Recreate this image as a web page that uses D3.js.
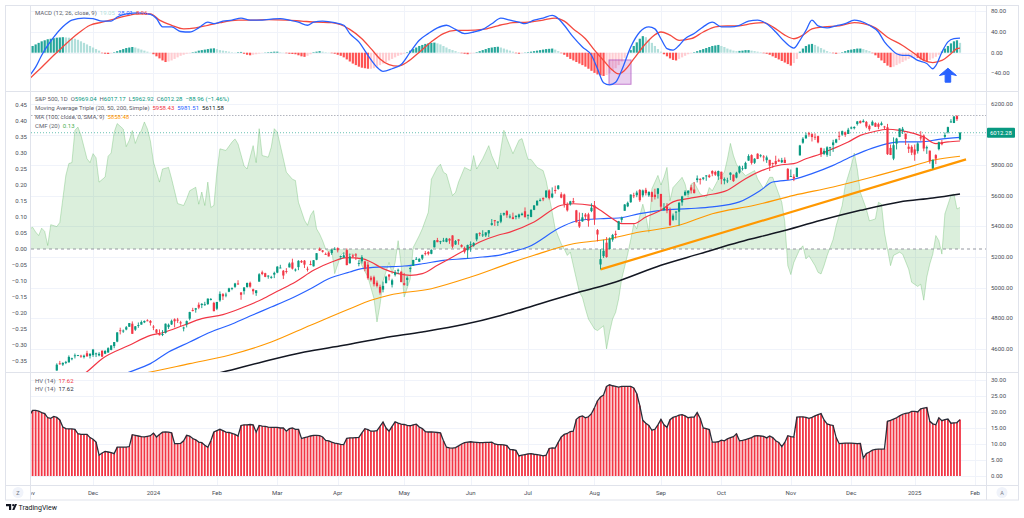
<!DOCTYPE html>
<html><head><meta charset="utf-8">
<script src="https://cdn.jsdelivr.net/npm/d3@7"></script>
<style>body{margin:0;background:#fff;}svg{display:block;font-family:Roboto,"Liberation Sans",sans-serif;}text{white-space:pre;}</style>
</head><body><svg id="c" width="1024" height="518"></svg>
<script>
// ---------- DATA (bar index 0 = 1 Nov 2023, daily trading bars) ----------
const tickLabels=["Nov","Dec","2024","Feb","Mar","Apr","May","Jun","Jul","Aug","Sep","Oct","Nov","Dec","2025","Feb"];
const tickBars=[0,21,41,62,82,102,124,146,165,187,209,229,252,272,293,313];
const priceTicks=[4600,4800,5000,5200,5400,5600,5800,6000,6200];
const cmfTicks=[-0.35,-0.3,-0.25,-0.2,-0.15,-0.1,-0.05,0,0.05,0.1,0.15,0.2,0.25,0.3,0.35,0.4,0.45];
const macdTicks=[-40,0,40,80];
const hvTicks=[0,5,10,15,20,25,30];

const opens=[4201,4268,4334,4364,4366,4383,4391,4365,4406,4458,4505,4497,4509,4511,4538,4553,4555,4555,4546,4571,4554,
4559,4564,4557,4587,4568,4576,4593,4618,4647,4721,4719,4726,4744,4764,4725,4754,4758,4773,4786,4782,
4745,4726,4697,4690,4704,4742,4759,4793,4791,4773,4739,4760,4797,4853,4856,4888,4886,4889,4892,4925,4900,
4862,4916,4957,4951,4973,4996,5005,5027,4968,4977,5004,5031,4989,4964,5039,5100,5094,5074,5067,5085,
5098,5131,5110,5108,5132,5164,5112,5134,5174,5176,5123,5154,5139,5182,5254,5243,5220,5229,5226,5248,
5258,5205,5195,5245,5159,5211,5217,5157,5172,5171,5150,5065,5068,5032,5005,4987,5029,5085,5019,5084,5115,5103,
5029,5050,5122,5142,5187,5169,5190,5225,5233,5221,5263,5311,5303,5305,5299,5319,5341,5282,5315,5278,5259,5244,
5283,5275,5315,5357,5343,5341,5354,5410,5441,5424,5431,5477,5500,5461,5460,5461,5461,5474,5499,
5471,5462,5508,5537,5572,5585,5591,5635,5590,5638,5645,5610,5608,5543,5545,5566,5505,5429,5433,5477,5479,5500,
5537,5376,5151,5206,5294,5252,5313,5352,5377,5443,5502,5531,5558,5603,5604,5638,5603,5639,5603,5624,5607,5613,
5612,5506,5530,5507,5443,5491,5496,5557,5603,5616,5655,5641,5703,5709,5711,5727,5733,5762,5756,5727,
5757,5699,5698,5737,5738,5719,5752,5779,5776,5830,5866,5816,5875,5860,5857,5833,5835,5814,5827,5833,5819,5835,5776,
5724,5725,5723,5864,5947,5976,6009,6003,5986,5990,5912,5874,5868,5917,5931,5948,5992,6000,6015,6004,
6040,6042,6069,6089,6081,6083,6057,6060,6075,6068,6063,6053,6048,5913,5843,5941,5985,6024,6006,5921,5920,
5903,5892,5983,5994,5910,5895,5782,5866,5905,5950,5986,6015,6082,6076,6121,5969];
const highs=[4245,4319,4374,4372,4386,4391,4393,4419,4420,4505,4521,4511,4521,4557,4542,4569,4560,4561,4562,4587,4569,
4599,4575,4578,4590,4591,4610,4623,4644,4709,4738,4726,4749,4768,4779,4749,4772,4785,4785,4793,4788,
4755,4729,4727,4722,4765,4765,4791,4799,4802,4783,4745,4785,4842,4868,4867,4903,4898,4907,4929,4932,4907,
4907,4975,4964,4967,4999,5000,5031,5048,4971,5002,5033,5039,4993,4983,5094,5111,5097,5081,5077,5104,
5140,5149,5115,5127,5165,5189,5125,5179,5180,5180,5137,5176,5180,5225,5262,5246,5229,5236,5249,5264,
5263,5208,5229,5256,5223,5219,5225,5179,5212,5175,5169,5077,5078,5046,5019,5039,5077,5089,5058,5114,5124,5110,
5096,5074,5139,5181,5200,5192,5215,5239,5238,5250,5311,5325,5306,5325,5325,5323,5342,5311,5316,5283,5268,5281,
5302,5297,5354,5362,5375,5361,5376,5448,5442,5433,5488,5490,5506,5479,5490,5473,5483,5490,5524,
5479,5510,5539,5571,5583,5590,5636,5642,5655,5666,5670,5623,5614,5557,5567,5586,5508,5491,5488,5487,5489,5551,
5566,5383,5251,5313,5330,5328,5351,5372,5436,5464,5546,5562,5609,5620,5633,5644,5641,5652,5628,5628,5646,5651,
5613,5552,5552,5523,5484,5501,5560,5600,5636,5637,5671,5690,5733,5716,5722,5735,5741,5767,5764,5765,
5758,5720,5718,5754,5739,5757,5797,5796,5823,5871,5871,5846,5878,5872,5866,5863,5835,5817,5862,5843,5848,5851,5781,
5772,5741,5784,5933,5983,6013,6018,6009,6008,5993,5916,5910,5924,5920,5966,5973,6020,6026,6020,6044,
6053,6054,6089,6093,6100,6089,6066,6093,6080,6078,6085,6057,6070,5935,5982,5979,6041,6050,6007,5941,5930,
5935,5950,6022,6001,5928,5896,5836,5872,5954,5965,6014,6052,6101,6119,6128,6017];
const lows=[4197,4268,4334,4347,4357,4355,4344,4363,4395,4457,4496,4488,4500,4511,4525,4537,4552,4541,4537,4548,4537,
4547,4546,4551,4546,4565,4574,4590,4604,4643,4694,4704,4721,4744,4698,4717,4737,4758,4768,4780,4752,
4722,4700,4687,4683,4700,4730,4756,4740,4769,4748,4714,4740,4786,4844,4836,4859,4866,4881,4887,4916,4845,
4853,4907,4919,4937,4970,4983,4998,5017,4920,4955,4999,4999,4955,4946,5039,5081,5068,5058,5058,5062,
5094,5127,5056,5092,5132,5118,5105,5114,5161,5128,5105,5146,5138,5179,5240,5229,5216,5203,5214,5246,
5230,5184,5195,5146,5157,5197,5180,5139,5157,5107,5052,5040,5008,5001,4954,4969,5028,5047,5001,5073,5089,5035,
5013,5011,5101,5143,5183,5168,5180,5210,5211,5218,5263,5297,5284,5299,5296,5286,5257,5279,5280,5262,5223,5191,
5234,5267,5303,5336,5331,5331,5331,5405,5403,5403,5421,5469,5456,5452,5447,5446,5451,5471,5459,
5446,5460,5506,5537,5563,5565,5585,5576,5584,5614,5640,5584,5523,5497,5536,5551,5426,5390,5430,5444,5398,5493,
5410,5302,5119,5194,5195,5250,5300,5321,5377,5425,5502,5526,5554,5585,5591,5560,5590,5602,5593,5561,5576,5582,
5507,5503,5486,5403,5435,5441,5406,5535,5601,5605,5615,5615,5687,5674,5702,5698,5717,5728,5730,5704,
5675,5675,5683,5703,5691,5714,5745,5765,5774,5829,5804,5808,5840,5851,5825,5815,5762,5784,5799,5822,5814,5813,5703,
5723,5696,5723,5864,5940,5972,5986,5955,5965,5943,5854,5866,5855,5860,5887,5944,5964,5992,5985,6004,
6035,6034,6059,6072,6080,6042,6024,6060,6050,6035,6059,6036,5867,5866,5833,5903,5983,6004,5932,5880,5866,
5829,5876,5960,5891,5874,5810,5773,5807,5897,5930,5978,6007,6077,6075,6089,5963];
const closes=[4238,4318,4358,4366,4378,4383,4347,4415,4412,4496,4503,4508,4514,4547,4538,4557,4559,4550,4555,4551,4568,
4595,4570,4567,4549,4586,4604,4622,4644,4707,4720,4719,4741,4768,4698,4747,4755,4775,4782,4783,4770,
4743,4705,4689,4697,4764,4757,4783,4780,4784,4766,4739,4781,4840,4850,4865,4869,4894,4891,4928,4925,4846,
4906,4959,4943,4954,4995,4998,5027,5022,4953,5001,5030,5006,4976,4982,5087,5089,5070,5078,5070,5096,
5137,5131,5079,5105,5157,5124,5118,5175,5165,5150,5117,5149,5179,5225,5242,5234,5218,5204,5248,5254,
5244,5206,5211,5147,5204,5202,5210,5161,5199,5123,5062,5051,5022,5011,4967,5011,5071,5072,5048,5100,5116,5036,
5018,5064,5128,5181,5188,5188,5214,5223,5221,5247,5308,5297,5303,5308,5321,5307,5268,5305,5306,5267,5235,5278,
5283,5291,5354,5353,5347,5361,5375,5421,5434,5432,5473,5487,5473,5465,5448,5469,5478,5483,5460,
5475,5509,5537,5567,5573,5577,5634,5585,5615,5631,5667,5588,5545,5505,5564,5556,5427,5399,5459,5464,5436,5522,
5447,5347,5186,5240,5200,5319,5344,5344,5434,5455,5543,5554,5608,5597,5621,5571,5635,5617,5626,5592,5592,5648,
5529,5520,5503,5408,5471,5496,5554,5596,5626,5633,5635,5618,5714,5703,5719,5733,5722,5745,5738,5762,
5709,5710,5700,5751,5696,5751,5792,5780,5815,5860,5815,5842,5841,5865,5854,5851,5797,5810,5808,5824,5833,5814,5705,
5729,5713,5783,5929,5973,5996,6001,5984,5985,5949,5871,5894,5917,5917,5949,5969,5987,6022,5999,6032,
6047,6050,6086,6075,6090,6053,6035,6084,6051,6051,6074,6051,5872,5867,5931,5974,6040,6038,5971,5907,5882,
5869,5942,5975,5909,5918,5827,5836,5843,5950,5937,5997,6049,6086,6119,6101,6012.28];

// moving averages: [bar, value]
const ma20=[[14,4380],[19,4450],[24,4535],[33,4623],[40,4688],[44,4705],[51,4754],[57,4797],[64,4823],[71,4873],[77,4924],[82,4976],[88,5037],[94,5113],[100,5167],[105,5196],[110,5189],[113,5167],[117,5124],[122,5091],[126,5080],[130,5091],[135,5146],[139,5189],[144,5244],[149,5298],[155,5342],[159,5363],[167,5429],[176,5538],[180,5548],[186,5538],[189,5505],[193,5450],[196,5418],[200,5418],[204,5461],[209,5505],[213,5560],[218,5581],[224,5603],[231,5636],[237,5712],[244,5777],[249,5803],[253,5810],[257,5842],[262,5875],[266,5908],[271,5952],[275,5995],[279,6017],[284,6035],[288,6028],[293,6006],[296,5984],[300,5941],[304,5952],[308,5958]];
const ma50=[[28,4410],[33,4448],[40,4503],[46,4579],[53,4644],[60,4710],[66,4754],[73,4814],[80,4873],[86,4924],[93,4993],[99,5058],[106,5102],[110,5124],[117,5135],[124,5141],[130,5156],[137,5178],[144,5189],[150,5200],[156,5214],[160,5235],[165,5265],[176,5396],[182,5440],[189,5450],[195,5455],[202,5483],[209,5505],[218,5516],[226,5527],[235,5560],[242,5636],[246,5690],[253,5708],[259,5745],[266,5799],[273,5865],[279,5912],[284,5941],[288,5952],[295,5952],[301,5969],[308,5982]];
const ma100=[[34,4430],[40,4448],[53,4503],[66,4558],[80,4644],[93,4754],[106,4862],[113,4917],[119,4950],[133,4993],[146,5069],[159,5160],[167,5211],[180,5287],[189,5309],[202,5363],[215,5407],[226,5483],[240,5538],[253,5603],[266,5658],[279,5723],[293,5799],[299,5832],[308,5858]];
const ma200=[[58,4420],[64,4448],[77,4514],[91,4579],[104,4623],[117,4671],[130,4710],[144,4760],[156,4818],[169,4895],[182,4971],[194,5037],[209,5146],[222,5222],[235,5298],[248,5363],[262,5440],[275,5505],[288,5560],[299,5586],[308,5612]];
const trendLine=[[189,5119],[310,5838]];
const highLine=6128;

// Chaikin money flow (20): [bar, value]
const cmf=[[0,0.063],[1,0.068],[2,0.053],[3,0.042],[4,0.065],[5,0.055],[6,0.011],[7,0.076],[9,0.07],[10,0.083],[11,0.157],[12,0.23],[13,0.267],[14,0.27],[15,0.371],[16,0.381],[17,0.356],[19,0.282],[20,0.27],[21,0.298],[22,0.285],[23,0.209],[25,0.225],[26,0.29],[27,0.3],[28,0.365],[29,0.392],[31,0.375],[32,0.32],[33,0.34],[34,0.37],[35,0.33],[36,0.355],[37,0.37],[38,0.397],[39,0.375],[40,0.337],[41,0.272],[43,0.209],[44,0.25],[46,0.255],[47,0.22],[49,0.142],[51,0.136],[52,0.157],[53,0.182],[55,0.193],[56,0.14],[57,0.178],[58,0.136],[59,0.209],[60,0.13],[61,0.136],[62,0.24],[63,0.313],[65,0.308],[67,0.334],[68,0.344],[69,0.328],[71,0.26],[72,0.25],[73,0.287],[74,0.323],[75,0.27],[76,0.376],[77,0.292],[79,0.287],[80,0.318],[81,0.376],[82,0.365],[84,0.282],[85,0.24],[87,0.218],[88,0.214],[89,0.146],[91,0.09],[92,0.074],[93,0.105],[94,0.12],[95,0.063],[96,0.047],[97,0.026],[98,0.0],[99,-0.01],[100,0.0],[101,-0.077],[103,-0.02],[104,-0.01],[105,-0.021],[107,-0.015],[109,-0.031],[110,-0.052],[112,-0.088],[114,-0.155],[115,-0.228],[116,-0.175],[117,-0.1],[119,-0.042],[120,-0.078],[121,-0.042],[122,0.026],[123,-0.052],[124,-0.15],[126,-0.094],[127,0.005],[129,0.042],[130,0.063],[132,0.115],[133,0.218],[135,0.255],[136,0.265],[137,0.24],[138,0.234],[140,0.167],[141,0.177],[142,0.209],[144,0.255],[146,0.245],[147,0.292],[148,0.25],[150,0.282],[152,0.323],[153,0.292],[155,0.25],[156,0.312],[157,0.371],[158,0.345],[160,0.298],[162,0.34],[163,0.345],[165,0.28],[166,0.28],[168,0.255],[170,0.245],[171,0.214],[173,0.115],[174,0.063],[176,0.016],[177,0.0],[178,-0.02],[179,-0.01],[181,-0.094],[182,-0.135],[183,-0.151],[184,-0.187],[185,-0.219],[187,-0.25],[188,-0.255],[190,-0.24],[191,-0.312],[192,-0.26],[193,-0.219],[194,-0.198],[195,-0.156],[196,-0.094],[198,-0.016],[199,0.03],[200,0.078],[201,0.063],[202,0.104],[203,0.14],[204,0.104],[205,0.052],[206,0.188],[208,0.23],[209,0.2],[210,0.224],[211,0.255],[212,0.151],[213,0.192],[215,0.213],[216,0.224],[217,0.203],[218,0.161],[219,0.203],[220,0.208],[222,0.172],[224,0.161],[225,0.192],[226,0.182],[228,0.218],[230,0.24],[231,0.281],[232,0.33],[233,0.292],[234,0.265],[235,0.25],[237,0.229],[240,0.245],[241,0.219],[243,0.188],[245,0.224],[246,0.224],[247,0.198],[249,0.146],[250,0.085],[251,-0.052],[252,-0.08],[253,-0.042],[255,0.0],[256,0.01],[257,-0.031],[258,-0.021],[260,-0.052],[261,-0.073],[262,-0.078],[263,-0.052],[264,-0.021],[266,0.03],[267,0.073],[269,0.136],[270,0.198],[272,0.26],[273,0.3],[274,0.25],[275,0.177],[277,0.125],[278,0.088],[280,0.094],[281,0.146],[282,0.14],[283,0.052],[285,-0.052],[286,-0.02],[288,-0.01],[289,-0.016],[291,-0.063],[292,-0.104],[294,-0.117],[295,-0.11],[296,-0.16],[297,-0.088],[298,-0.047],[299,-0.016],[300,0.042],[301,0.026],[302,-0.016],[303,0.11],[305,0.167],[306,0.172],[307,0.125],[308,0.13]];

// MACD (12,26,9) lines: [bar, value]
const macdLine=[[0,-44],[2,-28],[4,-5],[6,14],[8,30],[11,50],[14,63],[18,67],[21,66],[24,61],[27,61],[29,69],[32,75],[36,77],[40,74],[42,66],[44,50],[47,50],[50,41],[53,40],[56,48],[59,59],[61,56],[64,61],[67,63],[70,67],[73,63],[76,63],[80,65],[83,66],[86,63],[89,59],[92,53],[94,59],[97,61],[101,58],[104,53],[106,37],[109,21],[112,-5],[115,-28],[117,-36],[120,-31],[123,-23],[126,1],[129,24],[132,37],[135,48],[138,53],[141,45],[144,37],[147,40],[150,45],[153,56],[156,67],[159,63],[162,59],[164,56],[167,63],[170,67],[173,72],[175,66],[177,53],[180,30],[183,11],[186,-5],[188,-31],[190,-58],[192,-62],[194,-57],[196,-34],[199,11],[202,40],[205,50],[207,46],[209,27],[211,8],[213,5],[215,14],[217,27],[220,37],[223,50],[226,59],[229,50],[232,50],[235,53],[238,61],[241,63],[244,56],[247,40],[250,21],[253,9],[255,24],[257,43],[259,63],[261,52],[264,48],[267,52],[270,56],[273,63],[275,61],[278,53],[281,40],[283,21],[285,8],[287,-2],[289,-5],[291,-5],[294,-15],[297,-21],[299,-31],[300,-25],[302,1],[304,21],[306,27],[308,28.01]];
const signalLine=[[0,-50],[4,-28],[8,-5],[12,17],[16,37],[20,53],[24,59],[28,65],[32,71],[36,75],[40,75],[43,63],[47,53],[51,46],[55,48],[59,53],[63,58],[69,63],[74,63],[79,64],[85,63],[90,61],[95,59],[100,58],[103,54],[106,45],[110,27],[113,8],[116,-12],[119,-23],[122,-26],[125,-18],[129,1],[133,21],[137,37],[141,43],[145,43],[150,45],[155,52],[160,58],[165,59],[170,63],[174,67],[177,61],[180,46],[184,27],[187,5],[190,-15],[193,-34],[195,-41],[197,-34],[200,-12],[203,11],[206,30],[209,40],[212,34],[215,24],[219,27],[223,40],[227,50],[231,52],[235,52],[239,56],[243,58],[246,50],[250,34],[253,27],[256,34],[259,46],[263,50],[268,52],[273,58],[276,56],[280,48],[284,30],[289,14],[293,-2],[296,-15],[299,-19],[302,-15],[305,-2],[307,8],[308,8.96]];
const macdHist=[10,13,16,19,22,24,26,27,28,29,29.5,30,
29.5,29,28,27,25,22,19,16,13,10,7,4,
-1,-2,-2.5,-1, 1,3,5,7,9,10,11, 10,8,6,4,2,0.5,
-3,-7,-11,-15,-18,-17,-15,-12,-9,-6, -4,-2,-1,1,
2,4,5,6,7,8,8.5, 7,5,4,3,2, 1,0.5,1,1.5,
-2,-4,-5,-4,-3, -1.5,-0.5,0.5,1, 1.5,2,2,1, 0.5,-1,-2,-2.5,
-3,-5,-7,-8,-6,-3, 1,2,3,2,1,0.5,
-1,-2,-4,-6,-9,-13,-17,-21,-24,-27,-29,-30,-31,-31,-30,
-27,-24,-21,-18,-15,-12,-9,-6,-4,-2,
1,4,7,10,13,15,17,18,19,19.5, 18,16,13,10,7,5,3,1,
-1,-2,-3,-2, -1,1, 3,5,7,9,10,11,11.5, 10,8,6,4,2, -1,-2,-1, 0.5,1,2,3,
4,5,6,7,7.5,8,6, 3,
-1,-4,-8,-12,-15,-18,-21,-24,-27,-31,-35,-39,-42,-44,-45,
-43,-40,-35,-30,-24,-17,-10,-3,
5,13,20,27,32, 30,25,19,13,7,2,
-3,-7,-11,-14,-15,-12,-9,-6,-3,-1,1,
3,5,7,9,11,13,14,15, 13,11,8,6,4,3, 3.5,4,5,5,4,3, 2,1,-1,
-2,-4,-7,-10,-13,-16,-19,-22,-25,-20, -12,
2,8,13,16,17,15, 12,9,6,3,1, -1,-2,-1,
1,3,5,6,7,8,8,7,5,3,
-1,-5,-10,-15,-20,-25,-28,-27,-24, -21,-18,-15,-12,-10,-8,
-10,-13,-15,-16, -14,-11,-8,-4,
2,8,13,18,22,24,19.05];

// Historical volatility (14) per bar
const hv=[19.0,20.5,20.5,20.3,19.8,19.5,18.2,18.0,18.6,18.3,17.5,15.3,14.8,14.7,14.7,14.6,13.2,13.0,13.0,13.0,
12.0,11.5,10.6,6.5,7.2,7.7,7.5,7.3,7.0,9.0,9.0,9.0,9.0,9.2,12.9,12.7,12.5,12.3,12.2,12.4,
12.6,13.4,12.2,13.0,13.7,13.75,13.7,13.5,10.1,10.1,10.2,11.0,12.7,12.5,11.7,11.3,10.6,10.4,9.6,9.0,
11.0,13.75,14.2,14.6,14.2,13.7,13.6,13.3,13.0,12.5,15.8,16.0,16.0,16.1,16.0,13.7,15.8,15.6,15.5,15.3,
15.2,15.2,15.2,15.0,15.0,14.0,14.8,15.0,14.6,14.6,11.7,12.0,12.2,12.5,12.7,12.7,12.6,12.2,11.1,11.0,
10.6,10.3,10.1,9.9,9.8,11.8,11.9,11.9,12.0,12.1,13.5,14.8,14.5,14.0,14.0,14.2,15.5,16.9,15.0,14.0,
15.5,16.9,16.5,16.2,16.1,15.8,15.7,16.0,16.2,15.3,14.8,13.9,13.75,13.8,13.7,13.6,13.5,11.0,9.0,8.8,
8.7,8.9,9.4,10.0,10.4,10.6,10.7,10.6,10.5,10.4,10.4,10.5,10.5,10.6,10.0,9.8,9.8,9.7,9.5,8.3,
8.2,8.0,6.25,6.5,6.7,6.9,7.0,6.8,6.7,6.5,6.3,6.5,8.6,8.8,8.7,10.5,12.2,13.0,13.3,13.9,
14.0,17.7,18.5,18.8,18.2,18.5,19.5,21.3,23.5,24.7,25.3,28.0,28.5,28.2,28.0,27.8,28.0,28.0,28.0,28.0,
27.5,25.7,22.0,17.4,16.5,15.8,14.3,14.6,16.0,17.7,16.0,15.2,17.6,18.3,18.6,19.0,19.2,18.8,18.2,18.4,
18.4,19.8,18.0,15.0,14.8,14.5,10.6,10.6,10.7,11.2,11.0,11.6,12.0,12.3,13.2,11.0,11.1,11.4,11.7,12.0,
12.5,12.6,12.5,12.4,11.9,12.5,12.0,11.0,10.5,9.2,10.5,12.6,12.3,12.2,18.4,18.5,18.5,18.3,18.0,18.3,
18.8,19.2,19.5,17.5,16.3,16.0,15.8,12.0,10.1,10.2,10.3,10.3,10.3,10.2,10.1,10.2,5.6,7.0,7.5,8.1,
8.3,8.4,8.4,8.5,17.1,17.4,17.8,18.2,18.8,19.3,19.6,19.7,20.2,20.2,20.0,21.0,21.2,21.4,17.1,16.3,
16.0,18.2,17.3,17.6,17.8,16.5,16.6,16.7,17.62];

// drawings on the MACD pane
const markBox={bars:[191.8,199.1],values:[-14,-61]};
const markArrow={bar:304,tip:-30,neck:-44,tail:-57};

// ---------- CHART ----------
const svg=d3.select("#c");
const L=31,R=986;
const paneMacd=[5,91.5],paneMain=[91.5,372.5],paneHv=[372.5,485.5];
const x=d3.scaleLinear().domain([0,308]).range([29.6,960]);
const yP=d3.scaleLinear().domain([4600,6200]).range([348.8,104]);
const yC=d3.scaleLinear().domain([-0.35,0.45]).range([361,105]);
const yM=d3.scaleLinear().domain([-40,80]).range([73.4,11.3]);
const yH=d3.scaleLinear().domain([0,30]).range([476,380]);
const UP="#089981",DN="#F23645",GRID="#F0F3FA",BORDER="#E0E3EB",TXT="#4A4D57";
const minus=s=>s.replace("-","\u2212");

const defs=svg.append("defs");
function clip(id,y0,y1,x0=L,x1=R){defs.append("clipPath").attr("id",id).append("rect").attr("x",x0).attr("y",y0).attr("width",x1-x0).attr("height",y1-y0);}
clip("cM",paneMacd[0],paneMacd[1]);clip("cP",paneMain[0],paneMain[1]);clip("cH",paneHv[0],paneHv[1]);clip("cX",485.5,500);

svg.append("rect").attr("width",1024).attr("height",518).attr("fill","#fff");

// grids
const grid=svg.append("g").attr("stroke",GRID).attr("stroke-width",1);
tickBars.forEach(b=>{const xx=Math.round(x(b))+0.5; if(xx>L&&xx<R) grid.append("line").attr("x1",xx).attr("x2",xx).attr("y1",5).attr("y2",485.5);});
priceTicks.forEach(p=>grid.append("line").attr("x1",L).attr("x2",R).attr("y1",Math.round(yP(p))+0.5).attr("y2",Math.round(yP(p))+0.5));
macdTicks.forEach(v=>grid.append("line").attr("x1",L).attr("x2",R).attr("y1",Math.round(yM(v))+0.5).attr("y2",Math.round(yM(v))+0.5));
hvTicks.forEach(v=>grid.append("line").attr("x1",L).attr("x2",R).attr("y1",Math.round(yH(v))+0.5).attr("y2",Math.round(yH(v))+0.5));

// ---- MACD pane
const gM=svg.append("g").attr("clip-path","url(#cM)");
gM.selectAll("rect.h").data(macdHist).join("rect").attr("class","h")
 .attr("x",(d,i)=>x(i)-1.1).attr("width",2.2)
 .attr("y",d=>Math.min(yM(0),yM(d))).attr("height",d=>Math.abs(yM(d)-yM(0)))
 .attr("fill",(d,i)=>{const p=i>0?macdHist[i-1]:d; return d>=0?(d>=p?"#26A69A":"#B2DFDB"):(d<p?"#FF5252":"#FFCDD2");});
gM.append("rect").attr("x",x(markBox.bars[0])).attr("width",x(markBox.bars[1])-x(markBox.bars[0]))
 .attr("y",yM(markBox.values[0])).attr("height",yM(markBox.values[1])-yM(markBox.values[0]))
 .attr("fill","rgba(156,39,176,0.22)").attr("stroke","rgba(156,39,176,0.55)").attr("stroke-width",1);
const lnM=d3.line().x(d=>x(d[0])).y(d=>yM(d[1])).curve(d3.curveMonotoneX);
gM.append("path").attr("d",lnM(signalLine)).attr("fill","none").attr("stroke","#F4493F").attr("stroke-width",1.3);
gM.append("path").attr("d",lnM(macdLine)).attr("fill","none").attr("stroke","#2962FF").attr("stroke-width",1.3);
{const ax=x(markArrow.bar),t=yM(markArrow.tip),n=yM(markArrow.neck),b=yM(markArrow.tail);
 gM.append("path").attr("d",`M${ax},${t} L${ax+8.5},${n} L${ax+2.8},${n-1.2} L${ax+2.8},${b} L${ax-2.8},${b} L${ax-2.8},${n-1.2} L${ax-8.5},${n} Z`)
 .attr("fill","#2962FF").attr("stroke","#2962FF").attr("stroke-width",1).attr("stroke-linejoin","round");}

// ---- main pane
const gP=svg.append("g").attr("clip-path","url(#cP)");
const area=d3.area().x(d=>x(d[0])).y0(yC(0)).y1(d=>yC(d[1]));
gP.append("path").attr("d",area(cmf)).attr("fill","rgba(76,175,80,0.2)");
gP.append("path").attr("d",d3.line().x(d=>x(d[0])).y(d=>yC(d[1]))(cmf)).attr("fill","none").attr("stroke","rgba(76,175,80,0.3)").attr("stroke-width",1);
gP.append("line").attr("x1",L).attr("x2",R).attr("y1",yC(0)).attr("y2",yC(0)).attr("stroke","#9598A1").attr("stroke-dasharray","3,3").attr("stroke-width",1);
gP.append("line").attr("x1",L).attr("x2",R).attr("y1",Math.round(yP(highLine))+0.5).attr("y2",Math.round(yP(highLine))+0.5).attr("stroke","#B2B5BE").attr("stroke-dasharray","1.5,1.5").attr("stroke-width",1);
gP.append("line").attr("x1",L).attr("x2",R).attr("y1",yP(closes[closes.length-1])).attr("y2",yP(closes[closes.length-1])).attr("stroke","#089981").attr("stroke-opacity",0.6).attr("stroke-dasharray","1,2").attr("stroke-width",1);
const lnP=d3.line().x(d=>x(d[0])).y(d=>yP(d[1])).curve(d3.curveMonotoneX);
gP.append("path").attr("d",lnP(ma200)).attr("fill","none").attr("stroke","#131722").attr("stroke-width",1.5);
gP.append("path").attr("d",lnP(ma100)).attr("fill","none").attr("stroke","#FF9800").attr("stroke-width",1.1);
gP.append("path").attr("d",d3.line().x(d=>x(d[0])).y(d=>yP(d[1]))(trendLine)).attr("fill","none").attr("stroke","#FF9800").attr("stroke-width",2.2);
gP.append("path").attr("d",lnP(ma50)).attr("fill","none").attr("stroke","#2962FF").attr("stroke-width",1.2);
gP.append("path").attr("d",lnP(ma20)).attr("fill","none").attr("stroke","#F23645").attr("stroke-width",1.2);
const cg=gP.append("g");
closes.forEach((c,i)=>{const o=opens[i],col=c>=o?UP:DN,xx=x(i);
 cg.append("line").attr("x1",xx).attr("x2",xx).attr("y1",yP(highs[i])).attr("y2",yP(lows[i])).attr("stroke",col).attr("stroke-width",0.9);
 const y1=yP(Math.max(o,c)),y2=yP(Math.min(o,c));
 cg.append("rect").attr("x",xx-1.1).attr("width",2.2).attr("y",y1).attr("height",Math.max(0.9,y2-y1)).attr("fill",col);});

// ---- HV pane
const gH=svg.append("g").attr("clip-path","url(#cH)");
gH.selectAll("rect").data(hv).join("rect").attr("x",(d,i)=>x(i)-0.9).attr("width",1.8)
 .attr("y",d=>yH(d)).attr("height",d=>yH(0)-yH(d)).attr("fill","#F23645");
gH.append("path").attr("d",d3.line().x((d,i)=>x(i)).y(d=>yH(d))(hv)).attr("fill","none").attr("stroke","#2A2E39").attr("stroke-width",1.3);

// ---- frames
const fr=svg.append("g").attr("stroke",BORDER).attr("stroke-width",1).attr("fill","none");
fr.append("rect").attr("x",5.5).attr("y",5.5).attr("width",1013).attr("height",494.5);
fr.append("line").attr("x1",L-0.5).attr("x2",L-0.5).attr("y1",5).attr("y2",500);
fr.append("line").attr("x1",R+0.5).attr("x2",R+0.5).attr("y1",5).attr("y2",500);
[paneMacd[1],paneMain[1],paneHv[1]].forEach(y=>fr.append("line").attr("x1",5).attr("x2",1019).attr("y1",y).attr("y2",y));

// ---- axes text
const fs=6;
const rAx=svg.append("g").attr("font-size",fs).attr("fill",TXT);
priceTicks.filter(p=>p!==6000).forEach(p=>rAx.append("text").attr("x",R+5).attr("y",yP(p)+2).text(d3.format(".2f")(p)));
macdTicks.forEach(v=>rAx.append("text").attr("x",R+5).attr("y",yM(v)+2).text(minus(d3.format(".2f")(v))));
hvTicks.forEach(v=>rAx.append("text").attr("x",R+5).attr("y",yH(v)+2).text(d3.format(".2f")(v)));
const lAx=svg.append("g").attr("font-size",fs).attr("fill",TXT).attr("text-anchor","end");
cmfTicks.forEach(v=>lAx.append("text").attr("x",L-4).attr("y",yC(v)+2).text(minus(d3.format(".2f")(v))));
const xAx=svg.append("g").attr("font-size",fs).attr("fill",TXT).attr("text-anchor","middle").attr("clip-path","url(#cX)");
tickLabels.forEach((t,k)=>xAx.append("text").attr("x",x(tickBars[k])).attr("y",494.5).text(t));
// price tag
const lastC=closes[closes.length-1];
svg.append("rect").attr("x",R+1).attr("y",yP(lastC)-5).attr("width",28).attr("height",10).attr("rx",1).attr("fill",UP);
svg.append("text").attr("x",R+4).attr("y",yP(lastC)+2.2).attr("font-size",fs).attr("fill","#fff").text(d3.format(".2f")(lastC));
// Z / A buttons
[["Z",18],["A",1002]].forEach(([t,cx])=>{svg.append("circle").attr("cx",cx).attr("cy",492.5).attr("r",5.5).attr("fill","#F0F3FA");
 svg.append("text").attr("x",cx).attr("y",494.6).attr("text-anchor","middle").attr("font-size",5.5).attr("fill","#787B86").text(t);});

// ---- legends
function legend(y,parts){const t=svg.append("text").attr("x",35).attr("y",y).attr("font-size",fs);
 parts.forEach(p=>t.append("tspan").attr("fill",p[1]).text(p[0]));}
const G="#5D606B";
legend(14.5,[["MACD (12, 26, close, 9)  ",G],["19.05  ","#B2DFDB"],["28.01  ","#2962FF"],["8.96","#F4493F"]]);
legend(101,[["S&P 500, 1D  ",G],["O",G],["5969.04  ",UP],["H",G],["6017.17  ",UP],["L",G],["5962.92  ",UP],["C",G],["6012.28  ",UP],["\u221288.96 (\u22121.46%)",UP]]);
legend(110,[["Moving Average Triple (20, 50, 200, Simple)  ",G],["5958.43  ","#F23645"],["5981.51  ","#2962FF"],["5611.58","#131722"]]);
legend(119,[["MA (100, close, 0, SMA, 9)  ",G],["5858.48","#FF9800"]]);
legend(127.5,[["CMF (20)  ",G],["0.13","#4CAF50"]]);
legend(383,[["HV (14)  ",G],["17.62","#F23645"]]);
legend(391,[["HV (14)  ",G],["17.62","#2A2E39"]]);

// ---- TradingView mark
const tv=svg.append("g").attr("fill","#131722");
tv.append("path").attr("d","M6,504 h5.2 v6 h-2.2 v-3.8 h-3 z");
tv.append("circle").attr("cx",13.2).attr("cy",505.2).attr("r",1.1);
tv.append("path").attr("d","M12.2,510 l2.6,-6 h2.2 l-2.6,6 z");
svg.append("text").attr("x",18.5).attr("y",510).attr("font-size",7).attr("fill","#131722").text("TradingView");
</script></body></html>
